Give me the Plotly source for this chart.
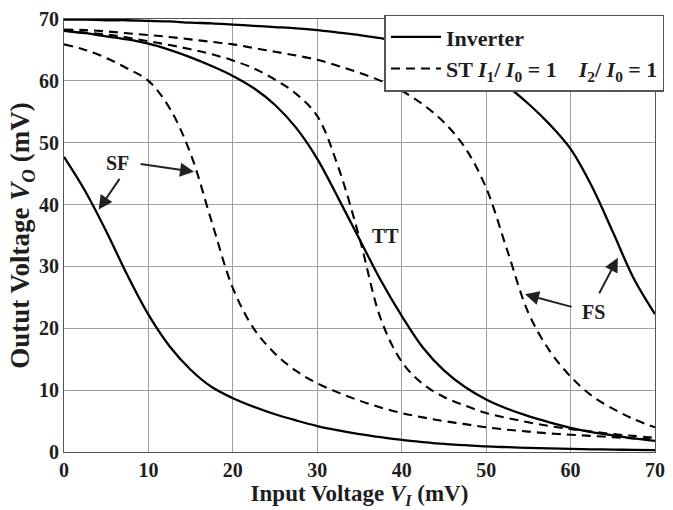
import plotly.graph_objects as go

# Input voltage grid (mV), shared by all curves
vin = [0, 2.5, 5, 7.5, 10, 12.5, 15, 17.5, 20, 22.5, 25, 27.5, 30, 32.5, 35,
       37.5, 40, 42.5, 45, 47.5, 50, 52.5, 55, 57.5, 60, 62.5, 65, 67.5, 70]

# Output voltage (mV) of the plain inverter at each corner
sf_inv = [47.7, 42.2, 35.7, 28.6, 22.2, 17.1, 13.3, 10.5, 8.7, 7.3, 6.1, 5.1, 4.2, 3.5, 2.9,
          2.4, 1.95, 1.6, 1.3, 1.1, 0.9, 0.78, 0.67, 0.58, 0.5, 0.44, 0.39, 0.34, 0.3]
tt_inv = [68.1, 67.7, 67.2, 66.7, 66.0, 65.0, 63.8, 62.4, 60.8, 58.8, 56.1, 52.4, 47.4, 41.0, 34.4,
          27.8, 22.0, 16.9, 13.2, 10.5, 8.5, 7.0, 5.8, 4.8, 3.9, 3.2, 2.7, 2.2, 1.8]
fs_inv = [69.9, 69.9, 69.8, 69.8, 69.7, 69.6, 69.4, 69.3, 69.1, 68.9, 68.7, 68.5, 68.2, 67.8, 67.4,
          66.9, 66.2, 65.4, 64.4, 63.1, 61.3, 59.1, 56.3, 53.0, 49.0, 43.0, 35.6, 28.0, 22.3]

# Output voltage (mV) of the Schmitt trigger (I1/I0 = 1, I2/I0 = 1)
sf_st = [65.9, 65.0, 63.7, 62.0, 60.0, 55.6, 48.2, 37.2, 26.5, 19.9, 15.9, 13.1, 11.1, 9.6, 8.3,
         7.2, 6.3, 5.6, 5.0, 4.5, 4.0, 3.6, 3.3, 3.0, 2.8, 2.6, 2.4, 2.2, 2.0]
tt_st = [68.1, 67.8, 67.5, 67.0, 66.4, 65.8, 65.1, 64.3, 63.3, 62.0, 60.2, 57.9, 54.3, 46.0, 34.6,
         21.6, 14.6, 11.0, 8.9, 7.5, 6.3, 5.5, 4.8, 4.2, 3.7, 3.3, 2.9, 2.6, 2.3]
fs_st = [68.3, 68.2, 68.0, 67.7, 67.4, 67.1, 66.7, 66.3, 65.9, 65.3, 64.7, 64.1, 63.4, 62.4, 61.3,
         60.0, 58.4, 56.2, 53.3, 49.2, 42.7, 32.6, 22.5, 16.4, 12.2, 9.1, 7.0, 5.3, 4.0]

x_ticks = [0, 10, 20, 30, 40, 50, 60, 70]
y_ticks = [0, 10, 20, 30, 40, 50, 60, 70]

FONT = "Liberation Serif"
INK = "#1e1e1e"
SOLID_W = 2.3
DASH_W = 2.1
DASH = "9px,6px"

fig = go.Figure()

for i, ys in enumerate([sf_inv, tt_inv, fs_inv]):
    fig.add_trace(go.Scatter(
        x=vin, y=ys, mode="lines",
        line=dict(color="black", width=SOLID_W, shape="spline", smoothing=1.0),
        name="<b>Inverter</b>", showlegend=(i == 0), legendrank=1,
    ))

st_name = ("<b>ST <i>I</i><sub>1</sub>/ <i>I</i><sub>0</sub> = 1 &nbsp;&nbsp; "
           "<i>I</i><sub>2</sub>/ <i>I</i><sub>0</sub> = 1</b>")
for i, ys in enumerate([sf_st, tt_st, fs_st]):
    fig.add_trace(go.Scatter(
        x=vin, y=ys, mode="lines",
        line=dict(color="black", width=DASH_W, dash=DASH, shape="spline", smoothing=1.0),
        name=st_name, showlegend=(i == 0), legendrank=2,
    ))

label_font = dict(family=FONT, size=20, color=INK)
annotations = [
    dict(x=6.3, y=46.8, text="<b>SF</b>", showarrow=False, font=label_font),
    dict(x=38.1, y=34.9, text="<b>TT</b>", showarrow=False, font=label_font),
    dict(x=62.7, y=22.6, text="<b>FS</b>", showarrow=False, font=label_font),
]
# arrows: (tail x, tail y, head x, head y) in data units
arrows = [
    (6.7, 44.4, 4.1, 39.2),
    (8.9, 46.6, 15.4, 45.3),
    (60.3, 23.4, 54.6, 25.5),
    (63.3, 25.4, 65.6, 31.4),
]
for tx, ty, hx, hy in arrows:
    annotations.append(dict(
        x=hx, y=hy, ax=tx, ay=ty, axref="x", ayref="y", xref="x", yref="y",
        text="", showarrow=True, arrowhead=2, arrowsize=1.4, arrowwidth=2,
        arrowcolor="#222", standoff=0, startstandoff=0,
    ))

fig.update_layout(
    width=673, height=510,
    margin=dict(l=64, r=8, t=11, b=58),
    paper_bgcolor="white", plot_bgcolor="white",
    font=dict(family=FONT, size=20, color=INK),
    annotations=annotations,
    legend=dict(
        x=1.016, y=1.01, xanchor="right", yanchor="top",
        bgcolor="white", bordercolor="#555", borderwidth=1.5,
        font=dict(family=FONT, size=22, color=INK),
        tracegroupgap=0, itemwidth=50,
    ),
    xaxis=dict(
        range=[0, 70], tickvals=x_ticks, ticktext=[f"<b>{v}</b>" for v in x_ticks],
        tickfont=dict(family=FONT, size=20, color=INK), ticklabeloverflow="allow",
        showgrid=True, gridcolor="#a0a0a0", gridwidth=1,
        showline=True, linecolor="#555", linewidth=1, mirror=True,
        ticks="", zeroline=False,
        title=dict(text="<b>Input Voltage <i>V<sub>I</sub></i> (mV)</b>",
                   font=dict(family=FONT, size=23, color=INK), standoff=4),
    ),
    yaxis=dict(
        range=[0, 70], tickvals=y_ticks, ticktext=[f"<b>{v}</b>" for v in y_ticks],
        tickfont=dict(family=FONT, size=20, color=INK), ticklabeloverflow="allow",
        showgrid=True, gridcolor="#a0a0a0", gridwidth=1,
        showline=True, linecolor="#555", linewidth=1, mirror=True,
        ticks="", zeroline=False,
        title=dict(text="<b>Outut Voltage <i>V<sub>O</sub></i> (mV)</b>",
                   font=dict(family=FONT, size=27, color=INK), standoff=0),
    ),
)

fig.write_html("out.html")
